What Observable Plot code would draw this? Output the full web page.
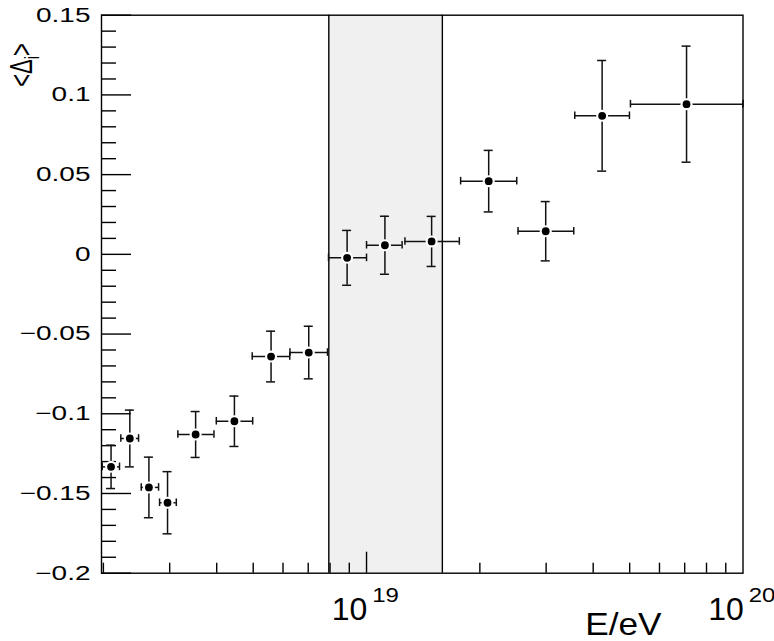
<!DOCTYPE html>
<html><head><meta charset="utf-8">
<script src="https://cdn.jsdelivr.net/npm/d3@7"></script>
<script src="https://cdn.jsdelivr.net/npm/@observablehq/plot@0.6"></script>
<style>body{margin:0;background:#fff;} svg{display:block;}</style>
</head><body><div id="chart"></div>
<script>
// ---- data ----
const eCenter = [2.096e18, 2.351e18, 2.642e18, 2.961e18, 3.516e18, 4.457e18, 5.577e18, 7.023e18, 8.88e18, 1.119e19, 1.489e19, 2.111e19, 2.992e19, 4.225e19, 7.08e19];
const eLow    = [1.986e18, 2.225e18, 2.521e18, 2.82e18, 3.154e18, 3.99e18, 4.97e18, 6.26e18, 7.925e18, 1.0e19, 1.265e19, 1.778e19, 2.526e19, 3.574e19, 5.024e19];
const eHigh   = [2.207e18, 2.48e18, 2.803e18, 3.124e18, 3.933e18, 4.984e18, 6.252e18, 7.876e18, 1.0e19, 1.243e19, 1.764e19, 2.506e19, 3.552e19, 4.993e19, 1.0e20];
const delta    = [-0.1333, -0.1155, -0.1462, -0.1558, -0.113, -0.1047, -0.0641, -0.0616, -0.0022, 0.0057, 0.0081, 0.0459, 0.0145, 0.0869, 0.0942];
const deltaErr = [0.0136, 0.0178, 0.019, 0.0195, 0.0144, 0.0158, 0.0159, 0.0165, 0.0172, 0.0182, 0.0157, 0.0193, 0.0186, 0.0347, 0.0364];
const band = [7.94e18, 1.59e19];

const xDomain = [1.977e18, 1e20];
const yDomain = [-0.2, 0.15];
const yMajor = [-0.2, -0.15, -0.1, -0.05, 0, 0.05, 0.1, 0.15];
const yTickLabels = ["\u22120.2", "\u22120.15", "\u22120.1", "\u22120.05", "0", "0.05", "0.1", "0.15"];
const yMinor = [-0.19,-0.18,-0.17,-0.16,-0.14,-0.13,-0.12,-0.11,-0.09,-0.08,-0.07,-0.06,-0.04,-0.03,-0.02,-0.01,0.01,0.02,0.03,0.04,0.06,0.07,0.08,0.09,0.11,0.12,0.13,0.14];
const xMinor = [2e18,3e18,4e18,5e18,6e18,7e18,8e18,9e18,2e19,3e19,4e19,5e19,6e19,7e19,8e19,9e19];
const xMajor = [1e19];
const xLabelValues = [1e19, 1e20];
const xLabelBase = ["10", "10"];
const xLabelExp = ["19", "20"];
const xTitle = "E/eV";

// ---- layout ----
const W = 774, H = 641;
const mL = 101, mR = 31.5, mT = 14.7, mB = 68.3;
const plotW = W - mL - mR, plotH = H - mT - mB;

const data = eCenter.map((x, i) => ({
  x, xlo: eLow[i], xhi: eHigh[i],
  y: delta[i], ylo: delta[i] - deltaErr[i], yhi: delta[i] + deltaErr[i]
}));

const sw = 1.4;
const chart = Plot.plot({
  width: W, height: H,
  marginLeft: mL, marginRight: mR, marginTop: mT, marginBottom: mB,
  x: {type: "log", domain: xDomain, axis: null},
  y: {domain: yDomain, axis: null},
  style: {fontFamily: "'Liberation Sans', Arial, Helvetica, sans-serif", color: "black", background: "white", overflow: "visible"},
  marks: [
    Plot.rect([band], {x1: d => d[0], x2: d => d[1], y1: yDomain[0], y2: yDomain[1], fill: "#f0f0f0"}),
    Plot.ruleX(band, {stroke: "black", strokeWidth: sw}),
    // y ticks (inward, left side)
    Plot.ruleY(yMinor, {insetRight: plotW - 15, stroke: "black", strokeWidth: sw}),
    Plot.ruleY(yMajor, {insetRight: plotW - 30, stroke: "black", strokeWidth: sw}),
    // x ticks (inward, bottom)
    Plot.ruleX(xMinor, {insetTop: plotH - 10, stroke: "black", strokeWidth: sw}),
    Plot.ruleX(xMajor, {insetTop: plotH - 21, stroke: "black", strokeWidth: sw}),
    // y tick labels
    Plot.text(yMajor, {y: d => d, frameAnchor: "left", text: (d, i) => yTickLabels[i], textAnchor: "end", dx: -11, fontSize: 20, lineAnchor: "middle", fill: "black"}),
    // x tick labels 10^n
    Plot.text(xLabelValues, {x: d => d, frameAnchor: "bottom", text: (d, i) => xLabelBase[i], fontSize: 32, dx: -17, dy: 46.3, lineAnchor: "bottom", fill: "black"}),
    Plot.text(xLabelValues, {x: d => d, frameAnchor: "bottom", text: (d, i) => xLabelExp[i], fontSize: 20, dx: 19, dy: 29, lineAnchor: "bottom", fill: "black"}),
    // x title
    Plot.text([xTitle], {frameAnchor: "bottom-right", text: d => d, textAnchor: "end", fontSize: 32, dx: -81.5, dy: 61.5, lineAnchor: "bottom", fill: "black"}),
    // error bars
    Plot.ruleX(data, {x: "x", y1: "ylo", y2: "yhi", stroke: "#111", strokeWidth: 1.5}),
    Plot.ruleY(data, {y: "y", x1: "xlo", x2: "xhi", stroke: "#111", strokeWidth: 1.5}),
    Plot.ruleY(data, {y: "yhi", x1: "x", x2: "x", insetLeft: -4.5, insetRight: -4.5, stroke: "#111", strokeWidth: 1.5}),
    Plot.ruleY(data, {y: "ylo", x1: "x", x2: "x", insetLeft: -4.5, insetRight: -4.5, stroke: "#111", strokeWidth: 1.5}),
    Plot.ruleX(data, {x: "xlo", y1: "y", y2: "y", insetTop: -3.8, insetBottom: -3.8, stroke: "#111", strokeWidth: 1.5}),
    Plot.ruleX(data, {x: "xhi", y1: "y", y2: "y", insetTop: -3.8, insetBottom: -3.8, stroke: "#111", strokeWidth: 1.5}),
    // markers with a small gap around them
    Plot.dot(data, {x: "x", y: "y", r: 6, fill: "white"}),
    Plot.dot(data, {x: "x", y: "y", r: 3.9, fill: "black"}),
    Plot.frame({stroke: "black", strokeWidth: sw})
  ]
});

document.getElementById("chart").appendChild(chart);

// horizontal stretch of text as in the reference
const ySet = new Set(yTickLabels);
d3.select(chart).selectAll("text").each(function() {
  const t = this.textContent;
  const tr = this.getAttribute("transform") || "";
  if (ySet.has(t)) this.setAttribute("transform", tr + " scale(1.4,1)");
  else if (t === xTitle) this.setAttribute("transform", tr + " scale(1.1,1)");
  else if (xLabelExp.includes(t)) this.setAttribute("transform", tr + " scale(1.2,1)");
});

// y-axis title <Δ_i>, rotated
const yt = d3.select(chart).append("text")
  .attr("transform", "translate(32,65) scale(1.4,1) rotate(-90)")
  .attr("font-size", 22)
  .attr("fill", "black")
  .attr("font-family", "'Liberation Sans', Arial, Helvetica, sans-serif");
yt.append("tspan").text("<\u0394");
yt.append("tspan").attr("font-size", 15).attr("dy", 5).text("i");
yt.append("tspan").attr("dy", -5).text(">");
</script>
</body></html>
